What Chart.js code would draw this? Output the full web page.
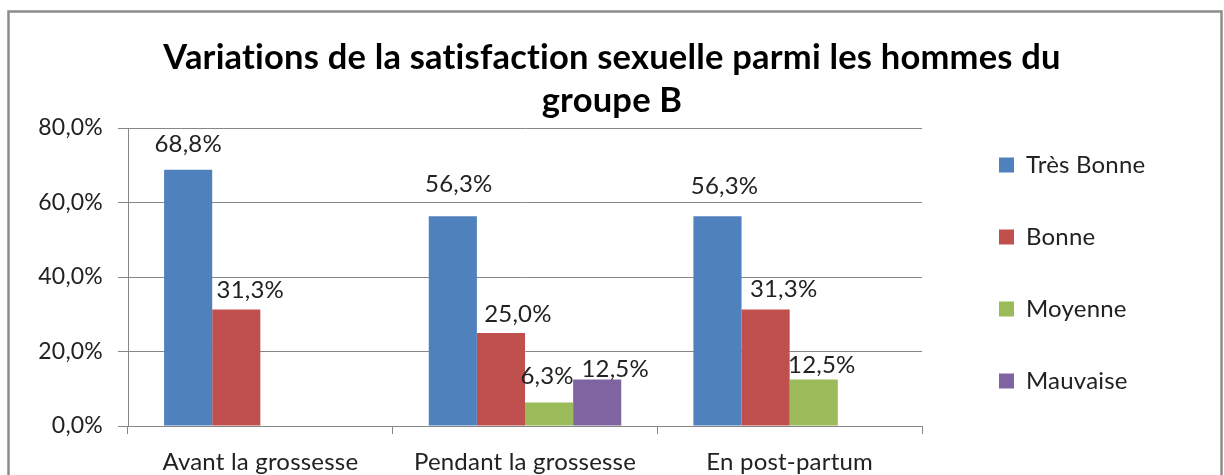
<!DOCTYPE html>
<html>
<head>
<meta charset="utf-8">
<script src="https://cdn.jsdelivr.net/npm/chart.js@4.4.1/dist/chart.umd.min.js"></script>
<style>
    html, body { margin: 0; padding: 0; background: #fff; }
    #wrap { width: 1224px; height: 475px; }
</style>
</head>
<body>
<div id="wrap"><canvas id="chart-satisfaction"></canvas></div>
<script>
// Données du graphique
const categories = ['Avant la grossesse', 'Pendant la grossesse', 'En post-partum'];
const tresBonne = [68.8, 56.3, 56.3];
const bonne = [31.3, 25.0, 31.3];
const moyenne = [null, 6.3, 12.5];
const mauvaise = [null, 12.5, null];
const yTicks = [0, 20, 40, 60, 80];

const titre = ['Variations de la satisfaction sexuelle parmi les hommes du', 'groupe B'];
const police = 'Lato';
const grisAxe = '#868686';

// Format "68,8%"
function formatPct(v) {
    return v.toFixed(1).replace('.', ',') + '%';
}

// Cadre gris autour du graphique + pas de ligatures
const cadrePlugin = {
    id: 'cadre',
    beforeLayout(chart) {
        chart.ctx.letterSpacing = '0.2px';
    },
    beforeDraw(chart) {
        const ctx = chart.ctx;
        ctx.save();
        ctx.strokeStyle = '#8c8c8c';
        ctx.lineWidth = 2.5;
        ctx.strokeRect(8.5, 11.5, 1213, 600);
        ctx.restore();
    }
};

// Légende : largeur fixe et placement comme dans Excel
const legendeFixePlugin = {
    id: 'legendeFixe',
    beforeLayout(chart) {
        const lg = chart.legend;
        if (lg && !lg._fixe) {
            const fitOrig = lg.fit;
            lg.fit = function() {
                this.maxHeight = 475;
                fitOrig.call(this);
                this.width = 302;
            };
            lg._fixe = true;
        }
    },
    afterLayout(chart) {
        const lg = chart.legend;
        if (!lg) return;
        lg.left = 951;
        lg.right = 1224;
        lg.width = 273;
        lg.top = 71;
        lg.bottom = 475;
        lg.height = 404;
    }
};

// Étiquettes de valeurs au-dessus des barres
const etiquettesPlugin = {
    id: 'etiquettes',
    afterDatasetsDraw(chart, args, opts) {
        const ctx = chart.ctx;
        ctx.save();
        ctx.font = '24px ' + police;
        ctx.fillStyle = '#222';
        ctx.textAlign = 'center';
        ctx.textBaseline = 'alphabetic';
        chart.data.datasets.forEach((ds, di) => {
            const meta = chart.getDatasetMeta(di);
            meta.data.forEach((bar, i) => {
                const v = ds.data[i];
                if (v === null || v === undefined) return;
                const dec = (opts.decalages[di] && opts.decalages[di][i]) || [0, 22];
                ctx.fillText(formatPct(v), bar.x + dec[0], bar.y - dec[1] + 8.5);
            });
        });
        ctx.restore();
    }
};

const ctx = document.getElementById('chart-satisfaction');

new Chart(ctx, {
    type: 'bar',
    data: {
        labels: categories,
        datasets: [
            { label: 'Très Bonne', data: tresBonne, backgroundColor: '#4F81BD' },
            { label: 'Bonne', data: bonne, backgroundColor: '#C0504D' },
            { label: 'Moyenne', data: moyenne, backgroundColor: '#9BBB59' },
            { label: 'Mauvaise', data: mauvaise, backgroundColor: '#8064A2' }
        ]
    },
    options: {
        responsive: true,
        maintainAspectRatio: false,
        animation: false,
        datasets: {
            bar: {
                categoryPercentage: 4 / 5.5,
                barPercentage: 1,
                borderWidth: 0
            }
        },
        layout: { padding: 0 },
        scales: {
            x: {
                grid: {
                    display: true,
                    drawOnChartArea: false,
                    drawTicks: true,
                    tickLength: 8,
                    color: grisAxe,
                    offset: true
                },
                border: { display: true, color: grisAxe, width: 1 },
                ticks: {
                    color: '#222',
                    padding: 14,
                    font: { family: police, size: 24 },
                    maxRotation: 0
                },
                afterFit(scale) { scale.height = 49; }
            },
            y: {
                min: 0,
                max: 80,
                afterBuildTicks(scale) {
                    scale.ticks = yTicks.map(v => ({ value: v }));
                },
                grid: {
                    color: grisAxe,
                    tickLength: 10,
                    drawTicks: true
                },
                border: { display: true, color: grisAxe, width: 1 },
                ticks: {
                    color: '#222',
                    padding: 15,
                    font: { family: police, size: 23 },
                    callback: v => formatPct(v)
                },
                afterFit(scale) { scale.width = 128; }
            }
        },
        plugins: {
            title: {
                display: true,
                text: titre,
                color: '#000',
                font: { family: police, size: 34.5, weight: 'bold', lineHeight: 43 / 34.5 },
                padding: { top: 36.5, bottom: 5.5 }
            },
            legend: {
                display: true,
                position: 'right',
                fullSize: false,
                labels: {
                    boxWidth: 15,
                    boxHeight: 15,
                    padding: 48,
                    color: '#222',
                    font: { family: police, size: 24 }
                }
            },
            tooltip: { enabled: false },
            etiquettes: {
                decalages: [
                    [[0, 26], [6, 33], [7, 31]],
                    [[14, 20], [17, 19], [18, 21]],
                    [null, [-2, 27], [8, 15]],
                    [null, [18, 11], null]
                ]
            }
        }
    },
    plugins: [cadrePlugin, legendeFixePlugin, etiquettesPlugin]
});
</script>
</body>
</html>
